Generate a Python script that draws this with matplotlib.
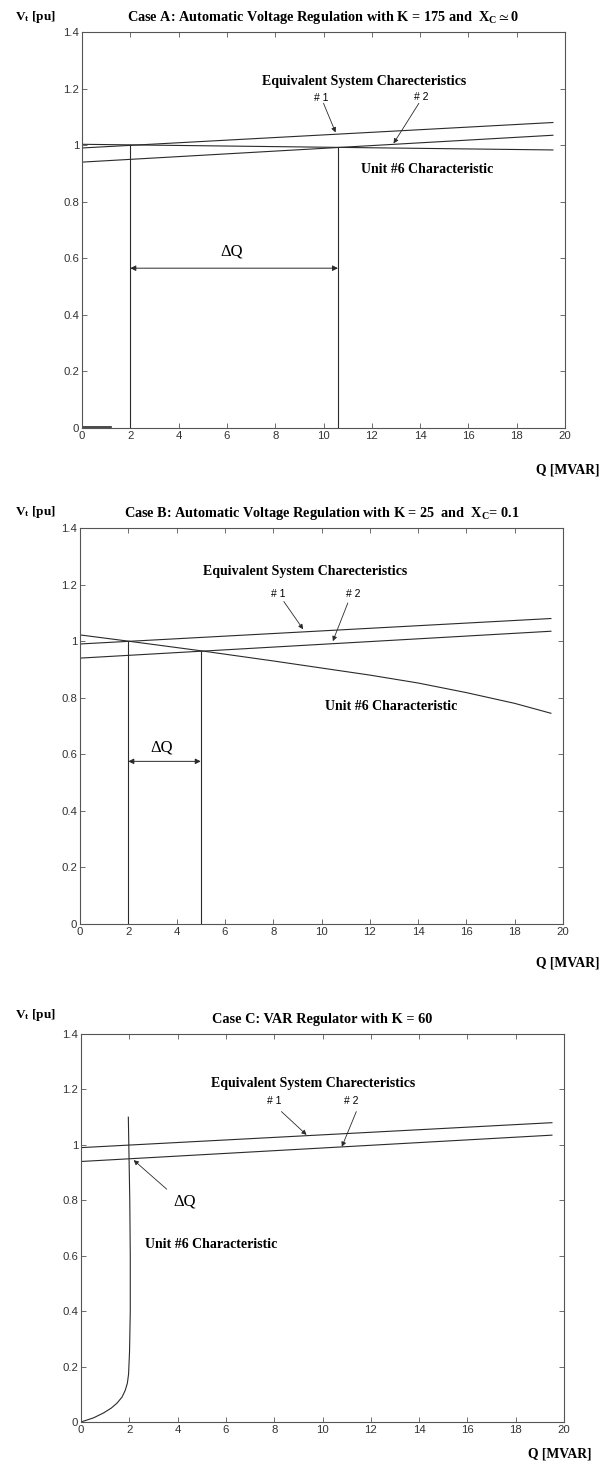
import matplotlib
matplotlib.use("Agg")
import matplotlib.pyplot as plt
from matplotlib.ticker import FuncFormatter

plt.rcParams['mathtext.fontset'] = 'custom'
plt.rcParams['mathtext.rm'] = 'Liberation Serif:bold'
plt.rcParams['mathtext.it'] = 'Liberation Serif:bold'
plt.rcParams['mathtext.bf'] = 'Liberation Serif:bold'
plt.rcParams['mathtext.fallback'] = 'stix'

# ---------------- data ----------------
x_ticks = [0, 2, 4, 6, 8, 10, 12, 14, 16, 18, 20]
y_ticks = [0, 0.2, 0.4, 0.6, 0.8, 1.0, 1.2, 1.4]

q_sys = [0, 19.5]
v_sys1 = [0.99, 1.08]
v_sys2 = [0.94, 1.035]

# Case A
q_unit_a = [0, 19.5]
v_unit_a = [1.003, 0.983]
q_stub_a = [0, 1.2]
v_stub_a = [0.003, 0.003]
q_cross_a = [2.0, 10.6]
v_cross_a = [1.0, 0.992]

# Case B
q_unit_b = [0, 2, 5, 8, 10, 12, 14, 16, 18, 19.5]
v_unit_b = [1.022, 1.0, 0.966, 0.93, 0.905, 0.88, 0.852, 0.818, 0.78, 0.745]
q_cross_b = [2.0, 5.0]
v_cross_b = [1.0, 0.965]

# Case C
q_unit_c = [0, 0.52, 0.94, 1.25, 1.49, 1.7, 1.83, 1.92, 1.97, 2.01, 2.04, 2.04, 2.02, 1.99, 1.96]
v_unit_c = [0, 0.015, 0.033, 0.05, 0.068, 0.09, 0.114, 0.14, 0.173, 0.254, 0.4, 0.6, 0.8, 0.95, 1.1]

titles = [
    "Case A: Automatic Voltage Regulation with K = 175 and  X$_{\\rm C}\\simeq$0",
    "Case B: Automatic Voltage Regulation with K = 25  and  X$_{\\rm C}$= 0.1",
    "Case C: VAR Regulator with K = 60",
]

# ---------------- figure ----------------
W, H = 606, 1463
fig = plt.figure(figsize=(W / 100, H / 100), dpi=100)

def ax_rect(l, r, t, b):
    return [l / W, 1 - b / H, (r - l) / W, (b - t) / H]

rects = [ax_rect(82, 565, 32, 428), ax_rect(80, 563, 528, 924), ax_rect(81, 564, 1034, 1422)]

LC = '#2a2a2a'
LW = 0.8
serif_b = dict(family=['Liberation Serif', 'DejaVu Serif'], weight='bold')
sans = dict(family=['Liberation Sans', 'DejaVu Sans'])
FS = 10

axes = []
for i, r in enumerate(rects):
    ax = fig.add_axes(r)
    ax.set_xlim(0, 20)
    ax.set_ylim(0, 1.4)
    ax.set_xticks(x_ticks)
    ax.set_yticks(y_ticks)
    ax.yaxis.set_major_formatter(FuncFormatter(lambda v, p: f"{v:g}"))
    ax.tick_params(direction='in', top=True, right=True, length=3.5, width=0.6,
                   labelsize=8.2, labelcolor='#333333', color='#555555', pad=2)
    for lab in ax.get_xticklabels() + ax.get_yticklabels():
        lab.set_family(['Liberation Sans', 'DejaVu Sans'])
    for s in ax.spines.values():
        s.set_linewidth(0.8)
        s.set_color('#555555')
    ax.set_title(titles[i], fontsize=10.3, pad=8, **serif_b)
    ax.plot(q_sys, v_sys1, color=LC, lw=LW)
    ax.plot(q_sys, v_sys2, color=LC, lw=LW)
    axes.append(ax)

for ytop, yq, xq in [(17, 470, 600), (512, 963, 600), (1015, 1454, 592)]:
    fig.text(15 / W, 1 - ytop / H, "V$_{\\rm t}$ [pu]", fontsize=9.5, va='center', ha='left', **serif_b)
    fig.text(xq / W, 1 - yq / H, "Q [MVAR]", fontsize=9.8, va='center', ha='right', **serif_b)

arrow1 = dict(arrowstyle='-|>', lw=0.6, color=LC, mutation_scale=7, shrinkA=0, shrinkB=0)
arrow2 = dict(arrowstyle='<|-|>', lw=0.7, color=LC, mutation_scale=8, shrinkA=0, shrinkB=0)
dq_font = dict(fontsize=12, family=['Liberation Serif', 'DejaVu Serif'])

def sys_labels(ax, eq_xy, l1_xy, l2_xy, a1, a2):
    ax.text(*eq_xy, "Equivalent System Charecteristics", ha='center', va='center', fontsize=FS, **serif_b)
    ax.text(*l1_xy, "# 1", ha='center', va='center', fontsize=7.5, **sans)
    ax.text(*l2_xy, "# 2", ha='center', va='center', fontsize=7.5, **sans)
    ax.annotate("", xy=a1[1], xytext=a1[0], arrowprops=arrow1)
    ax.annotate("", xy=a2[1], xytext=a2[0], arrowprops=arrow1)

# ----- Case A -----
ax = axes[0]
ax.plot(q_unit_a, v_unit_a, color=LC, lw=LW)
ax.plot(q_stub_a, v_stub_a, color=LC, lw=1.2)
for q, v in zip(q_cross_a, v_cross_a):
    ax.plot([q, q], [0, v], color=LC, lw=LW)
ax.annotate("", xy=(q_cross_a[1], 0.565), xytext=(q_cross_a[0], 0.565), arrowprops=arrow2)
ax.text(6.2, 0.625, "\u0394Q", ha='center', va='center', **dq_font)
sys_labels(ax, (11.7, 1.226), (9.9, 1.167), (14.05, 1.17),
           ((10.0, 1.148), (10.5, 1.045)), ((13.95, 1.148), (12.9, 1.006)))
ax.text(14.3, 0.915, "Unit #6 Characteristic", ha='center', va='center', fontsize=FS, **serif_b)

# ----- Case B -----
ax = axes[1]
ax.plot(q_unit_b, v_unit_b, color=LC, lw=LW)
for q, v in zip(q_cross_b, v_cross_b):
    ax.plot([q, q], [0, v], color=LC, lw=LW)
ax.annotate("", xy=(q_cross_b[1], 0.575), xytext=(q_cross_b[0], 0.575), arrowprops=arrow2)
ax.text(3.4, 0.625, "\u0394Q", ha='center', va='center', **dq_font)
sys_labels(ax, (9.34, 1.247), (8.2, 1.167), (11.3, 1.167),
           ((8.44, 1.14), (9.24, 1.042)), ((11.09, 1.135), (10.47, 1.0)))
ax.text(12.9, 0.77, "Unit #6 Characteristic", ha='center', va='center', fontsize=FS, **serif_b)

# ----- Case C -----
ax = axes[2]
ax.plot(q_unit_c, v_unit_c, color=LC, lw=LW)
ax.annotate("", xy=(2.18, 0.945), xytext=(3.55, 0.84), arrowprops=arrow1)
ax.text(4.3, 0.795, "\u0394Q", ha='center', va='center', **dq_font)
sys_labels(ax, (9.6, 1.222), (8.0, 1.158), (11.2, 1.16),
           ((8.3, 1.12), (9.34, 1.036)), ((11.4, 1.12), (10.8, 0.993)))
ax.text(2.66, 0.639, "Unit #6 Characteristic", ha='left', va='center', fontsize=FS, **serif_b)

fig.savefig("out.png", dpi=100)
